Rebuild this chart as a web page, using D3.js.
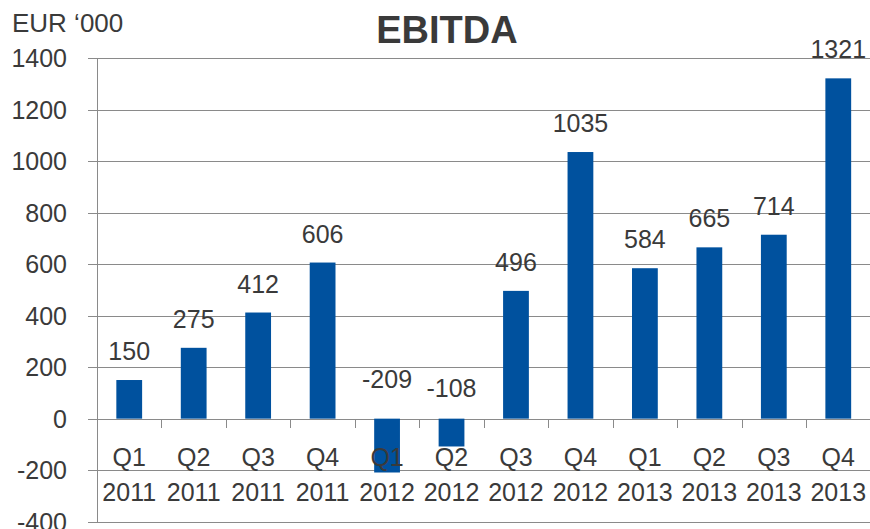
<!DOCTYPE html>
<html>
<head>
<meta charset="utf-8">
<script src="https://cdn.jsdelivr.net/npm/d3@7"></script>
<style>
  html, body { margin: 0; padding: 0; background: #fff; }
  svg { display: block; }
  text { font-family: "Liberation Sans", Arial, sans-serif; fill: #3a3a3a; }
</style>
</head>
<body>
<div id="chart"></div>
<script>
// data
const quarters = ["Q1", "Q2", "Q3", "Q4", "Q1", "Q2", "Q3", "Q4", "Q1", "Q2", "Q3", "Q4"];
const years = ["2011", "2011", "2011", "2011", "2012", "2012", "2012", "2012", "2013", "2013", "2013", "2013"];
const ebitda = [150, 275, 412, 606, -209, -108, 496, 1035, 584, 665, 714, 1321];
const yTicks = [-400, -200, 0, 200, 400, 600, 800, 1000, 1200, 1400];

const w = 870, h = 529;
const svg = d3.select("#chart").append("svg")
    .attr("width", w)
    .attr("height", h);

const keys = d3.range(ebitda.length);

// scales
const x = d3.scaleBand()
    .domain(keys)
    .range([97, 870.5])
    .paddingInner(0.6)
    .paddingOuter(0.3);

const step = x.step();
const left = 97;

const y = d3.scaleLinear()
    .domain([-400, 1400])
    .range([521.7, 58]);

const gridColor = "#8a8a8a";

// gridlines
svg.append("g")
    .selectAll("line")
    .data(yTicks).enter()
    .append("line")
    .attr("x1", left - 9)
    .attr("x2", w)
    .attr("y1", d => Math.round(y(d)) + 0.5)
    .attr("y2", d => Math.round(y(d)) + 0.5)
    .style("stroke", gridColor)
    .style("stroke-width", 1);

// axis_y line
svg.append("line")
    .attr("x1", left + 0.5)
    .attr("x2", left + 0.5)
    .attr("y1", Math.round(y(1400)))
    .attr("y2", Math.round(y(-400)) + 1)
    .style("stroke", gridColor);

// y tick labels
svg.append("g")
    .selectAll("text")
    .data(yTicks).enter()
    .append("text")
    .attr("x", 67)
    .attr("y", d => y(d))
    .attr("dy", "0.36em")
    .attr("text-anchor", "end")
    .style("font-size", "25px")
    .text(d => d);

// category ticks on the zero line
svg.append("g")
    .selectAll("line")
    .data(d3.range(1, ebitda.length + 1)).enter()
    .append("line")
    .attr("x1", i => Math.round(left + i * step) + 0.5)
    .attr("x2", i => Math.round(left + i * step) + 0.5)
    .attr("y1", Math.round(y(0)))
    .attr("y2", Math.round(y(0)) + 9)
    .style("stroke", gridColor);

// bars
svg.append("g")
    .selectAll("rect")
    .data(ebitda).enter()
    .append("rect")
    .attr("x", (d, i) => x(i))
    .attr("width", x.bandwidth())
    .attr("y", d => y(Math.max(0, d)))
    .attr("height", d => Math.abs(y(d) - y(0)))
    .style("fill", "#00519e");

// category labels
const cx = i => x(i) + x.bandwidth() / 2;
svg.append("g")
    .selectAll("text")
    .data(quarters).enter()
    .append("text")
    .attr("x", (d, i) => cx(i))
    .attr("y", 466)
    .attr("text-anchor", "middle")
    .style("font-size", "25px")
    .text(d => d);

svg.append("g")
    .selectAll("text")
    .data(years).enter()
    .append("text")
    .attr("x", (d, i) => cx(i))
    .attr("y", 501)
    .attr("text-anchor", "middle")
    .style("font-size", "25px")
    .text(d => d);

// value labels (negative ones sit above the zero line)
svg.append("g")
    .selectAll("text")
    .data(ebitda).enter()
    .append("text")
    .attr("x", (d, i) => cx(i))
    .attr("y", d => d >= 0 ? y(d) - 20 : y(0) - (y(d) - y(0)) * 0.35 - 12)
    .attr("text-anchor", "middle")
    .style("font-size", "25px")
    .text(d => d);

// title
svg.append("text")
    .attr("x", 447)
    .attr("y", 43)
    .attr("text-anchor", "middle")
    .style("font-size", "38px")
    .style("font-weight", "bold")
    .text("EBITDA");

// unit
svg.append("text")
    .attr("x", 12)
    .attr("y", 32)
    .style("font-size", "26px")
    .text("EUR \u2018000");
</script>
</body>
</html>
